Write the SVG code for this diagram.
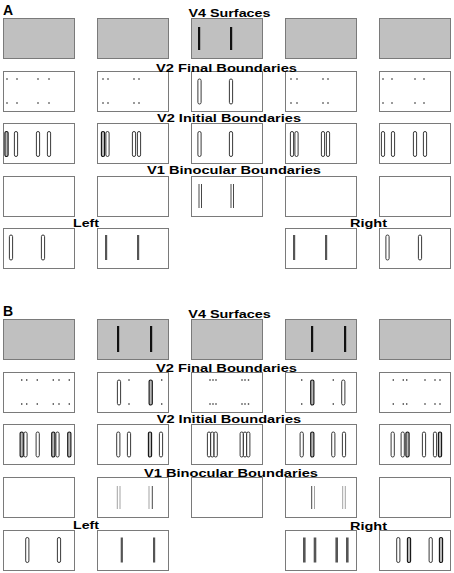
<svg xmlns="http://www.w3.org/2000/svg" width="454" height="573" viewBox="0 0 454 573">
<style>
.box{fill:#fff;stroke:#7a7a7a;stroke-width:1}
.gbox{fill:#c0c0c0;stroke:#7a7a7a;stroke-width:1}
.cap{fill:#fff;stroke:#222;stroke-width:0.9}
.capd{fill:#b8b8b8;stroke:#111;stroke-width:1.1}
.bar{fill:#111}
.mbar{fill:#555}
.dot{fill:#333}
.thin{stroke:#333;stroke-width:0.9}
.thinl{stroke:#999;stroke-width:0.9}
.lbl{font-family:"Liberation Sans",Arial,Helvetica,sans-serif;font-weight:bold;font-size:11.8px;fill:#000}
.pl{font-family:"Liberation Sans",Arial,Helvetica,sans-serif;font-weight:bold;font-size:14px;fill:#000}
</style>
<defs>
<rect id="cap" x="-1.6" y="0" width="3.2" height="25" rx="1.6"/>
<rect id="dt" x="-0.7" y="-0.7" width="1.4" height="1.4"/>
</defs>
<rect width="454" height="573" fill="#fff"/>
<g id="connectors"/>

<!-- PANEL A -->
<g id="A-V4">
<rect class="gbox" x="3.5" y="18.5" width="71" height="40"/>
<rect class="gbox" x="97.5" y="18.5" width="71" height="40"/>
<rect class="gbox" x="191.5" y="18.5" width="71" height="40"/>
<rect class="bar" x="198" y="27" width="2.2" height="23"/>
<rect class="bar" x="230" y="27" width="2.2" height="23"/>
<rect class="gbox" x="285.5" y="18.5" width="71" height="40"/>
<rect class="gbox" x="379.5" y="18.5" width="71" height="40"/>
</g>

<g id="A-V2F">
<rect class="box" x="3.5" y="71.5" width="71" height="40"/>
<g class="dot"><use href="#dt" x="7" y="79"/><use href="#dt" x="17" y="79"/><use href="#dt" x="38" y="79"/><use href="#dt" x="49" y="79"/>
<use href="#dt" x="7" y="103"/><use href="#dt" x="17" y="103"/><use href="#dt" x="38" y="103"/><use href="#dt" x="49" y="103"/></g>
<rect class="box" x="97.5" y="71.5" width="71" height="40"/>
<g class="dot"><use href="#dt" x="103" y="79"/><use href="#dt" x="108" y="79"/><use href="#dt" x="134" y="79"/><use href="#dt" x="139" y="79"/>
<use href="#dt" x="103" y="103"/><use href="#dt" x="108" y="103"/><use href="#dt" x="134" y="103"/><use href="#dt" x="139" y="103"/></g>
<rect class="box" x="191.5" y="71.5" width="71" height="40"/>
<use class="cap" href="#cap" x="199.5" y="79"/><use class="cap" href="#cap" x="231" y="79"/>
<rect class="box" x="285.5" y="71.5" width="71" height="40"/>
<g class="dot"><use href="#dt" x="291" y="79"/><use href="#dt" x="297" y="79"/><use href="#dt" x="323" y="79"/><use href="#dt" x="328" y="79"/>
<use href="#dt" x="291" y="103"/><use href="#dt" x="297" y="103"/><use href="#dt" x="323" y="103"/><use href="#dt" x="328" y="103"/></g>
<rect class="box" x="379.5" y="71.5" width="71" height="40"/>
<g class="dot"><use href="#dt" x="383" y="79"/><use href="#dt" x="392" y="79"/><use href="#dt" x="415" y="79"/><use href="#dt" x="424" y="79"/>
<use href="#dt" x="383" y="103"/><use href="#dt" x="392" y="103"/><use href="#dt" x="415" y="103"/><use href="#dt" x="424" y="103"/></g>
</g>

<g id="A-V2I">
<rect class="box" x="3.5" y="123.5" width="71" height="40"/>
<use class="capd" href="#cap" x="6.5" y="131.5"/><use class="cap" href="#cap" x="16" y="131.5"/><use class="cap" href="#cap" x="38" y="131.5"/><use class="cap" href="#cap" x="49" y="131.5"/>
<rect class="box" x="97.5" y="123.5" width="71" height="40"/>
<use class="capd" href="#cap" x="103" y="131.5"/><use class="cap" href="#cap" x="107.5" y="131.5"/><use class="cap" href="#cap" x="134" y="131.5"/><use class="cap" href="#cap" x="139" y="131.5"/>
<rect class="box" x="191.5" y="123.5" width="71" height="40"/>
<use class="cap" href="#cap" x="199.5" y="131.5"/><use class="cap" href="#cap" x="231" y="131.5"/>
<rect class="box" x="285.5" y="123.5" width="71" height="40"/>
<use class="cap" href="#cap" x="292" y="131.5"/><use class="cap" href="#cap" x="296.5" y="131.5"/><use class="cap" href="#cap" x="323" y="131.5"/><use class="cap" href="#cap" x="328" y="131.5"/>
<rect class="box" x="379.5" y="123.5" width="71" height="40"/>
<use class="cap" href="#cap" x="383" y="131.5"/><use class="cap" href="#cap" x="393" y="131.5"/><use class="cap" href="#cap" x="415" y="131.5"/><use class="cap" href="#cap" x="425" y="131.5"/>
</g>

<g id="A-V1">
<rect class="box" x="3.5" y="176.5" width="71" height="40"/>
<rect class="box" x="97.5" y="176.5" width="71" height="40"/>
<rect class="box" x="191.5" y="176.5" width="71" height="40"/>
<line class="thin" x1="199" y1="184" x2="199" y2="208"/><line class="thin" x1="201.5" y1="184" x2="201.5" y2="208"/>
<line class="thin" x1="231" y1="184" x2="231" y2="208"/><line class="thin" x1="233.5" y1="184" x2="233.5" y2="208"/>
<rect class="box" x="285.5" y="176.5" width="71" height="40"/>
<rect class="box" x="379.5" y="176.5" width="71" height="40"/>
</g>

<g id="A-LR">
<rect class="box" x="3.5" y="228.5" width="71" height="40"/>
<use class="cap" href="#cap" x="11" y="235"/><use class="cap" href="#cap" x="43" y="235"/>
<rect class="box" x="97.5" y="228.5" width="71" height="40"/>
<rect class="mbar" x="105" y="235" width="2.2" height="25"/><rect class="mbar" x="137" y="235" width="2.2" height="25"/>
<rect class="box" x="285.5" y="228.5" width="71" height="40"/>
<rect class="mbar" x="293" y="235" width="2.2" height="25"/><rect class="mbar" x="325" y="235" width="2.2" height="25"/>
<rect class="box" x="379.5" y="228.5" width="71" height="40"/>
<use class="cap" href="#cap" x="387.5" y="235"/><use class="cap" href="#cap" x="420" y="235"/>
</g>

<!-- PANEL B -->
<g id="B-V4">
<rect class="gbox" x="3.5" y="319.5" width="71" height="40"/>
<rect class="gbox" x="97.5" y="319.5" width="71" height="40"/>
<rect class="bar" x="117" y="326" width="2.2" height="26"/><rect class="bar" x="150" y="326" width="2.2" height="26"/>
<rect class="gbox" x="191.5" y="319.5" width="71" height="40"/>
<rect class="gbox" x="285.5" y="319.5" width="71" height="40"/>
<rect class="bar" x="311" y="326" width="2.2" height="26"/><rect class="bar" x="344" y="326" width="2.2" height="26"/>
<rect class="gbox" x="379.5" y="319.5" width="71" height="40"/>
</g>

<g id="B-V2F">
<rect class="box" x="3.5" y="372.5" width="71" height="40"/>
<g class="dot"><use href="#dt" x="21.7" y="380"/><use href="#dt" x="26.7" y="380"/><use href="#dt" x="37.3" y="380"/><use href="#dt" x="53.3" y="380"/><use href="#dt" x="59" y="380"/><use href="#dt" x="69.3" y="380"/>
<use href="#dt" x="21.7" y="404"/><use href="#dt" x="26.7" y="404"/><use href="#dt" x="37.3" y="404"/><use href="#dt" x="53.3" y="404"/><use href="#dt" x="59" y="404"/><use href="#dt" x="69.3" y="404"/></g>
<rect class="box" x="97.5" y="372.5" width="71" height="40"/>
<use class="cap" href="#cap" x="119" y="380"/><use class="capd" href="#cap" x="150.7" y="380"/>
<g class="dot"><use href="#dt" x="129" y="380"/><use href="#dt" x="161.7" y="380"/><use href="#dt" x="129" y="404"/><use href="#dt" x="161.7" y="404"/></g>
<rect class="box" x="191.5" y="372.5" width="71" height="40"/>
<g class="dot"><use href="#dt" x="210" y="380"/><use href="#dt" x="213" y="380"/><use href="#dt" x="216" y="380"/><use href="#dt" x="242" y="380"/><use href="#dt" x="245" y="380"/><use href="#dt" x="248.5" y="380"/>
<use href="#dt" x="210" y="404"/><use href="#dt" x="213" y="404"/><use href="#dt" x="216" y="404"/><use href="#dt" x="242" y="404"/><use href="#dt" x="245" y="404"/><use href="#dt" x="248.5" y="404"/></g>
<rect class="box" x="285.5" y="372.5" width="71" height="40"/>
<use class="capd" href="#cap" x="312.3" y="380"/><use class="cap" href="#cap" x="343.3" y="380"/>
<g class="dot"><use href="#dt" x="301.7" y="380"/><use href="#dt" x="333.3" y="380"/><use href="#dt" x="301.7" y="404"/><use href="#dt" x="333.3" y="404"/></g>
<rect class="box" x="379.5" y="372.5" width="71" height="40"/>
<g class="dot"><use href="#dt" x="393.3" y="380"/><use href="#dt" x="403.3" y="380"/><use href="#dt" x="406.7" y="380"/><use href="#dt" x="425" y="380"/><use href="#dt" x="435" y="380"/><use href="#dt" x="440" y="380"/>
<use href="#dt" x="393.3" y="404"/><use href="#dt" x="403.3" y="404"/><use href="#dt" x="406.7" y="404"/><use href="#dt" x="425" y="404"/><use href="#dt" x="435" y="404"/><use href="#dt" x="440" y="404"/></g>
</g>

<g id="B-V2I">
<rect class="box" x="3.5" y="424.5" width="71" height="40"/>
<use class="capd" href="#cap" x="21.7" y="432"/><use class="cap" href="#cap" x="25.5" y="432"/><use class="cap" href="#cap" x="37.7" y="432"/><use class="capd" href="#cap" x="53.3" y="432"/><use class="cap" href="#cap" x="57.5" y="432"/><use class="capd" href="#cap" x="69.3" y="432"/>
<rect class="box" x="97.5" y="424.5" width="71" height="40"/>
<use class="cap" href="#cap" x="118.3" y="432"/><use class="cap" href="#cap" x="129" y="432"/><use class="capd" href="#cap" x="150" y="432"/><use class="cap" href="#cap" x="161" y="432"/>
<rect class="box" x="191.5" y="424.5" width="71" height="40"/>
<use class="cap" href="#cap" x="209" y="432"/><use class="cap" href="#cap" x="212.3" y="432"/><use class="cap" href="#cap" x="215.7" y="432"/>
<use class="cap" href="#cap" x="241.7" y="432"/><use class="cap" href="#cap" x="245" y="432"/><use class="cap" href="#cap" x="248.3" y="432"/>
<rect class="box" x="285.5" y="424.5" width="71" height="40"/>
<use class="cap" href="#cap" x="301.7" y="432"/><use class="capd" href="#cap" x="312.3" y="432"/><use class="cap" href="#cap" x="333.3" y="432"/><use class="cap" href="#cap" x="344" y="432"/>
<rect class="box" x="379.5" y="424.5" width="71" height="40"/>
<use class="cap" href="#cap" x="392.7" y="432"/><use class="cap" href="#cap" x="402.7" y="432"/><use class="capd" href="#cap" x="407.5" y="432"/><use class="cap" href="#cap" x="424" y="432"/><use class="cap" href="#cap" x="435" y="432"/><use class="capd" href="#cap" x="440" y="432"/>
</g>

<g id="B-V1">
<rect class="box" x="3.5" y="477.5" width="71" height="40"/>
<rect class="box" x="97.5" y="477.5" width="71" height="40"/>
<line class="thinl" x1="117.3" y1="486" x2="117.3" y2="509"/><line class="thinl" x1="120" y1="486" x2="120" y2="509"/>
<line class="thinl" x1="149" y1="486" x2="149" y2="509"/><line class="thin" x1="152.3" y1="486" x2="152.3" y2="509" stroke-width="1.4"/>
<rect class="box" x="191.5" y="477.5" width="71" height="40"/>
<rect class="box" x="285.5" y="477.5" width="71" height="40"/>
<line class="thin" x1="311.7" y1="486" x2="311.7" y2="509" stroke-width="1.4"/><line class="thinl" x1="314.5" y1="486" x2="314.5" y2="509"/>
<line class="thinl" x1="342.7" y1="486" x2="342.7" y2="509"/><line class="thinl" x1="345.3" y1="486" x2="345.3" y2="509"/>
<rect class="box" x="379.5" y="477.5" width="71" height="40"/>
</g>

<g id="B-LR">
<rect class="box" x="3.5" y="530.5" width="71" height="40"/>
<use class="cap" href="#cap" x="27.3" y="537.5"/><use class="cap" href="#cap" x="59" y="537.5"/>
<rect class="box" x="97.5" y="530.5" width="71" height="40"/>
<rect class="mbar" x="120.7" y="537.5" width="2.2" height="25"/><rect class="mbar" x="153" y="537.5" width="2.2" height="25"/>
<rect class="box" x="285.5" y="530.5" width="71" height="40"/>
<rect class="mbar" x="303" y="537.5" width="2.6" height="25"/><rect class="mbar" x="313.7" y="537.5" width="2.6" height="25"/>
<rect class="mbar" x="335.4" y="537.5" width="2.6" height="25"/><rect class="mbar" x="346" y="537.5" width="2.6" height="25"/>
<rect class="box" x="379.5" y="530.5" width="71" height="40"/>
<use class="cap" href="#cap" x="398.3" y="537.5"/><use class="capd" href="#cap" x="409" y="537.5"/><use class="cap" href="#cap" x="430.7" y="537.5"/><use class="capd" href="#cap" x="441" y="537.5"/>
</g>

<g id="labels">
<text class="pl" x="3" y="15">A</text>
<text class="lbl" x="188.5" y="17.3" textLength="82" lengthAdjust="spacingAndGlyphs">V4 Surfaces</text>
<text class="lbl" x="156" y="71.5" textLength="141" lengthAdjust="spacingAndGlyphs">V2 Final Boundaries</text>
<text class="lbl" x="157" y="121.7" textLength="144" lengthAdjust="spacingAndGlyphs">V2 Initial Boundaries</text>
<text class="lbl" x="147" y="173.8" textLength="174" lengthAdjust="spacingAndGlyphs">V1 Binocular Boundaries</text>
<text class="lbl" x="73" y="227" textLength="26" lengthAdjust="spacingAndGlyphs">Left</text>
<text class="lbl" x="350" y="227" textLength="37" lengthAdjust="spacingAndGlyphs">Right</text>
<text class="pl" x="3" y="316">B</text>
<text class="lbl" x="188.3" y="318.3" textLength="82.5" lengthAdjust="spacingAndGlyphs">V4 Surfaces</text>
<text class="lbl" x="156" y="372" textLength="141" lengthAdjust="spacingAndGlyphs">V2 Final Boundaries</text>
<text class="lbl" x="156.7" y="423.3" textLength="144.5" lengthAdjust="spacingAndGlyphs">V2 Initial Boundaries</text>
<text class="lbl" x="144" y="476.7" textLength="174" lengthAdjust="spacingAndGlyphs">V1 Binocular Boundaries</text>
<text class="lbl" x="73" y="529.3" textLength="26" lengthAdjust="spacingAndGlyphs">Left</text>
<text class="lbl" x="350" y="530.3" textLength="37" lengthAdjust="spacingAndGlyphs">Right</text>
</g>
</svg>
